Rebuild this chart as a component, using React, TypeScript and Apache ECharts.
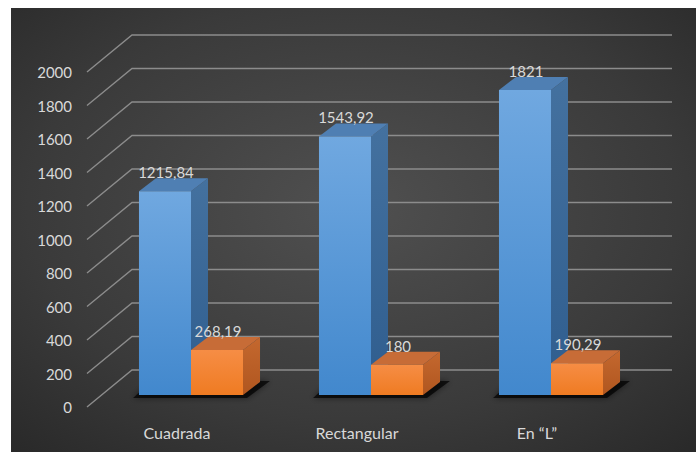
import React, { useEffect, useRef } from "react";
import * as echarts from "echarts";

const categories = ["Cuadrada", "Rectangular", "En \u201cL\u201d"];
const blueValues = [1215.84, 1543.92, 1821];
const orangeValues = [268.19, 180, 190.29];
const yTicks = [0, 200, 400, 600, 800, 1000, 1200, 1400, 1600, 1800, 2000];

const FONT = "Lato, 'Noto Sans', sans-serif";
const TEXT = "#d9d9d9";
// depth offsets
const FRONT_DX = -14, FRONT_DY = 12;
const BACK_DX = 31, BACK_DY = -25;
const BAR_DX = 17, BAR_DY = -13;
const BAR_RATIO = 0.289;

const fmt = (v: number) => String(v).replace(".", ",");

const lg = (a: string, b: string) =>
  new echarts.graphic.LinearGradient(0, 0, 0, 1, [
    { offset: 0, color: a },
    { offset: 1, color: b },
  ]);

const palettes = {
  blue: {
    front: () => lg("#70a8e0", "#4288cd"),
    side: () => lg("#44719f", "#2f5d8e"),
    top: "#4f7fb3",
  },
  orange: {
    front: () => lg("#f68d45", "#ef7b22"),
    side: () => lg("#c4682f", "#b0561f"),
    top: "#c76c37",
  },
};

function makeBarRender(which: "blue" | "orange") {
  const pal = palettes[which];
  return (params: any, api: any) => {
    const i = api.value(0);
    const v = api.value(1);
    const [cx, yTop] = api.coord([i, v]);
    const y0 = api.coord([i, 0])[1];
    const bw = api.size([1, 0])[0] * BAR_RATIO;
    const x0 = which === "blue" ? cx - bw : cx;
    const x1 = x0 + bw;
    const children: any[] = [];
    if (which === "blue") {
      const xe = cx + bw;
      children.push({
        type: "polygon",
        shape: {
          points: [
            [x0 - 6, y0 + 3],
            [xe + 4, y0 + 3],
            [xe + BAR_DX + 10, y0 + BAR_DY - 1],
            [x0 + BAR_DX - 4, y0 + BAR_DY - 1],
          ],
        },
        style: { fill: "rgba(8,8,8,0.7)", shadowBlur: 6, shadowColor: "rgba(0,0,0,0.7)" },
      });
    }
    children.push({
      type: "polygon",
      shape: {
        points: [
          [x1, yTop],
          [x1 + BAR_DX, yTop + BAR_DY],
          [x1 + BAR_DX, y0 + BAR_DY],
          [x1, y0],
        ],
      },
      style: { fill: pal.side() },
    });
    children.push({
      type: "polygon",
      shape: {
        points: [
          [x0, yTop],
          [x0 + BAR_DX, yTop + BAR_DY],
          [x1 + BAR_DX, yTop + BAR_DY],
          [x1, yTop],
        ],
      },
      style: { fill: pal.top },
    });
    children.push({
      type: "rect",
      shape: { x: x0, y: yTop, width: bw, height: y0 - yTop },
      style: { fill: pal.front() },
    });
    children.push({
      type: "text",
      style: {
        text: fmt(v),
        x: x0 + bw / 2 + 1,
        y: yTop - 19,
        align: "center",
        verticalAlign: "middle",
        textAlign: "center",
        textVerticalAlign: "middle",
        fill: TEXT,
        font: `15px ${FONT}`,
      },
    });
    return { type: "group", children };
  };
}

export default function App() {
  const ref = useRef<HTMLDivElement>(null);
  useEffect(() => {
    document.body.style.margin = "0";
    const chart = echarts.init(ref.current!, undefined, { renderer: "svg" });
    chart.setOption({
      animation: false,
      backgroundColor: "#ffffff",
      graphic: [
        {
          type: "rect",
          z: -100,
          shape: { x: 11, y: 8, width: 685, height: 444 },
          style: {
            fill: new echarts.graphic.RadialGradient(0.5, 0.45, 0.95, [
              { offset: 0, color: "#505050" },
              { offset: 0.5, color: "#3a3a3a" },
              { offset: 1, color: "#1c1c1c" },
            ]),
          },
        },
      ],
      grid: [
        { left: 101, top: 60, right: 55, bottom: 57 },
        { left: 101 + FRONT_DX, top: 60 + FRONT_DY, right: 55 - FRONT_DX, bottom: 57 - FRONT_DY },
      ],
      xAxis: [
        {
          type: "category",
          gridIndex: 0,
          data: categories,
          axisLine: { show: false },
          axisTick: { show: false },
          axisLabel: { show: false },
          splitLine: { show: false },
        },
        {
          type: "category",
          gridIndex: 1,
          data: categories,
          axisLine: { show: false },
          axisTick: { show: false },
          axisLabel: { color: TEXT, fontFamily: FONT, fontSize: 16, margin: 17 },
          splitLine: { show: false },
        },
      ],
      yAxis: [
        {
          type: "value",
          gridIndex: 0,
          min: 0,
          max: 2000,
          interval: 200,
          axisLine: { show: false },
          axisTick: { show: false },
          axisLabel: { show: false },
          splitLine: { show: false },
        },
        {
          type: "value",
          gridIndex: 1,
          min: 0,
          max: 2000,
          interval: 200,
          axisLine: { show: false },
          axisTick: { show: false },
          axisLabel: {
            color: TEXT,
            fontFamily: FONT,
            fontSize: 15,
            margin: 15,
            formatter: (v: number) => String(v),
          },
          splitLine: { show: false },
        },
      ],
      series: [
        {
          type: "custom",
          name: "grid",
          xAxisIndex: 0,
          yAxisIndex: 0,
          silent: true,
          z: 1,
          data: yTicks.map((t) => [0, t]),
          renderItem: (params: any, api: any) => {
            const y = api.coord([0, api.value(1)])[1];
            const cs = params.coordSys;
            const left = cs.x;
            const right = cs.x + cs.width;
            return {
              type: "polyline",
              shape: {
                points: [
                  [left + FRONT_DX, y + FRONT_DY],
                  [left + BACK_DX, y + BACK_DY],
                  [right + BACK_DX, y + BACK_DY],
                ],
              },
              style: { stroke: "#8c8c8c", lineWidth: 1.4, fill: "none" },
            };
          },
        },
        {
          type: "custom",
          name: "Serie 1",
          xAxisIndex: 0,
          yAxisIndex: 0,
          z: 2,
          data: blueValues.map((v, i) => [i, v]),
          renderItem: makeBarRender("blue"),
        },
        {
          type: "custom",
          name: "Serie 2",
          xAxisIndex: 0,
          yAxisIndex: 0,
          z: 3,
          data: orangeValues.map((v, i) => [i, v]),
          renderItem: makeBarRender("orange"),
        },
      ],
    });
    return () => chart.dispose();
  }, []);
  return <div ref={ref} style={{ width: 696, height: 452 }} />;
}
